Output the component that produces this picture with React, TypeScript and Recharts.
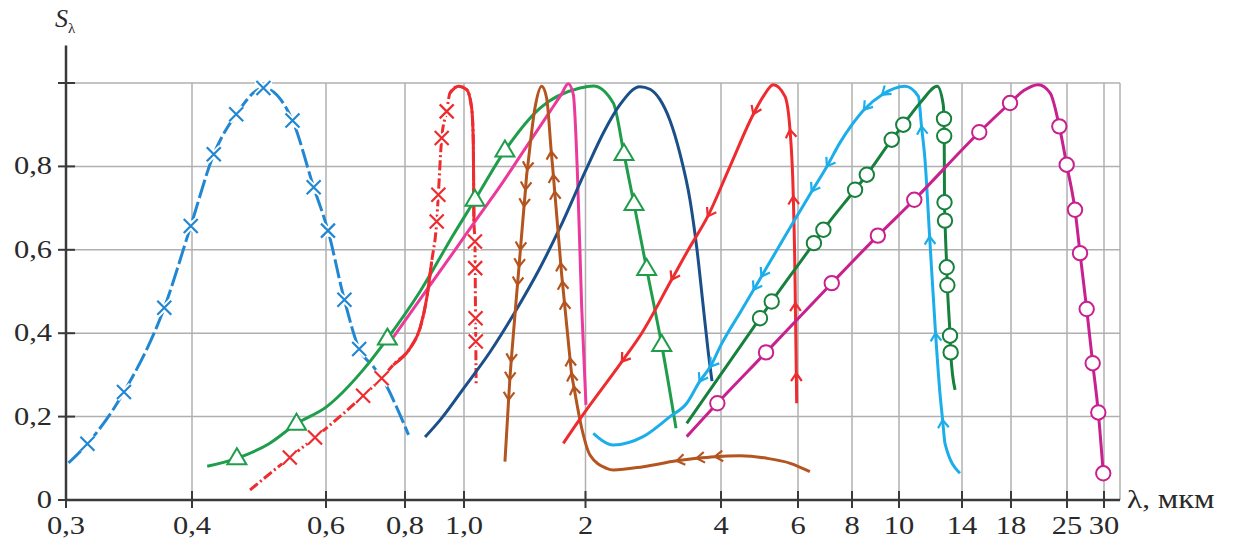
import { LineChart, Line, XAxis, YAxis, CartesianGrid, ReferenceLine } from "recharts";

// x axis of the original is not linear/log: ticks sit at these offsets (px from the 0,3 tick)
const TICK_LAMBDA = [0.3, 0.4, 0.6, 0.8, 1, 2, 4, 6, 8, 10, 14, 18, 25, 30];
const TICK_LABELS = ["0,3", "0,4", "0,6", "0,8", "1,0", "2", "4", "6", "8", "10", "14", "18", "25", "30"];
const TICK_U = [0, 126, 260, 339, 398, 519.5, 655, 732, 786, 833, 896, 945, 1001, 1038];
const Y_TICKS = [0, 0.2, 0.4, 0.6, 0.8, 1];

// [λ µm, Sλ, flag]  flag 1 = measured point marker, 2 = direction arrow
const BLUE_X = [
  [0.302, 0.089], [0.317, 0.135, 1], [0.346, 0.259, 1], [0.378, 0.461, 1], [0.399, 0.657, 1],
  [0.4325, 0.829, 1], [0.466, 0.925, 1], [0.5066, 0.988, 1], [0.55, 0.91, 1], [0.5816, 0.75, 1],
  [0.605, 0.646, 1], [0.6466, 0.48, 1], [0.684, 0.362, 1], [0.72, 0.32], [0.754, 0.272],
  [0.779, 0.222], [0.812, 0.156],
];
const GREEN_TRI = [
  [0.4227, 0.081], [0.467, 0.1, 1], [0.515, 0.135], [0.556, 0.183, 1], [0.602, 0.224],
  [0.694, 0.312], [0.7554, 0.387, 1], [0.851, 0.5], [0.964, 0.636], [1.09, 0.72, 1],
  [1.337, 0.838, 1], [1.626, 0.94], [1.955, 0.988], [2.115, 0.993], [2.41, 0.952],
  [2.568, 0.83, 1], [2.716, 0.71, 1], [2.903, 0.554, 1], [3.125, 0.372, 1], [3.336, 0.172],
];
const RED_NIR = [
  [0.4866, 0.024], [0.546, 0.102, 1], [0.5836, 0.15, 1], [0.635, 0.2], [0.694, 0.25, 1],
  [0.741, 0.292, 1], [0.77, 0.324], [0.817, 0.364], [0.851, 0.412], [0.8736, 0.484],
  [0.8905, 0.572], [0.9075, 0.668, 1], [0.913, 0.732, 1], [0.9244, 0.868, 1], [0.9414, 0.932, 1],
  [0.9525, 0.976], [0.9807, 0.992], [1.022, 0.984], [1.063, 0.94], [1.0765, 0.86],
  [1.082, 0.668], [1.09, 0.62, 1], [1.092, 0.556, 1], [1.095, 0.436, 1], [1.097, 0.38, 1],
  [1.1, 0.276],
];
const RED_SOLID_SPANS = [[0.76, 0.891], [0.95, 1.083]];
const PINK = [
  [0.77, 0.39], [0.851, 0.481], [0.964, 0.594], [1.1, 0.672], [1.296, 0.752], [1.488, 0.836],
  [1.708, 0.932], [1.8, 0.972], [1.858, 0.998], [1.9, 0.972], [1.934, 0.78], [1.969, 0.46],
  [2.007, 0.228],
];
const NAVY = [
  [0.868, 0.151], [0.925, 0.197], [1.0, 0.269], [1.214, 0.355], [1.42, 0.451], [1.626, 0.557],
  [1.79, 0.653], [1.996, 0.787], [2.288, 0.888], [2.509, 0.948], [2.804, 0.991], [2.952, 0.985],
  [3.1, 0.96], [3.247, 0.91], [3.395, 0.83], [3.542, 0.72], [3.646, 0.6], [3.734, 0.47],
  [3.808, 0.36], [3.867, 0.285],
];
const BROWN = [
  [1.337, 0.092], [1.367, 0.24, 2], [1.377, 0.288, 2], [1.388, 0.332, 2], [1.44, 0.516, 2],
  [1.447, 0.54], [1.453, 0.56, 2], [1.464, 0.6, 2], [1.494, 0.704, 2], [1.506, 0.744, 2],
  [1.516, 0.78], [1.521, 0.792, 2], [1.584, 0.94], [1.639, 0.992], [1.68, 0.964],
  [1.718, 0.836, 2], [1.735, 0.78, 2], [1.7465, 0.74, 2], [1.796, 0.568, 2], [1.804, 0.54],
  [1.8095, 0.524, 2], [1.826, 0.476, 2], [1.872, 0.34, 2], [1.885, 0.304, 2], [1.904, 0.272, 2],
  [1.969, 0.172], [2.066, 0.108], [2.31, 0.076], [2.41, 0.072], [2.853, 0.08],
  [3.346, 0.094, 2], [3.64, 0.1, 2], [3.91, 0.104, 2], [4.5, 0.106], [5.19, 0.1], [5.8, 0.088],
  [6.44, 0.068],
];
const RED_MIR = [
  [1.817, 0.136], [1.968, 0.2], [2.537, 0.332, 2], [2.83, 0.4], [3.27, 0.528, 2], [3.517, 0.6],
  [3.804, 0.68, 2], [4.234, 0.8], [4.839, 0.925, 2], [5.1, 0.968], [5.358, 0.996], [5.662, 0.968],
  [5.792, 0.888, 2], [5.878, 0.728, 2], [5.922, 0.536], [5.931, 0.472, 2], [5.956, 0.304, 2],
  [5.966, 0.232],
];
const CYAN = [
  [2.115, 0.16], [2.41, 0.132], [2.85, 0.152], [3.247, 0.2], [3.494, 0.232], [3.683, 0.284, 2],
  [3.843, 0.32, 2], [4.0, 0.372], [4.494, 0.449], [4.847, 0.504, 2], [5.05, 0.536, 2],
  [5.532, 0.612], [6.0, 0.685], [6.507, 0.74, 2], [7.07, 0.8, 2], [7.556, 0.857], [8.0, 0.9],
  [8.51, 0.936, 2], [9.28, 0.972, 2], [10.38, 0.992], [11.23, 0.968], [11.43, 0.896, 2],
  [11.65, 0.816], [11.944, 0.632, 2], [12.32, 0.4, 2], [12.6, 0.256], [12.77, 0.192, 2],
  [12.92, 0.136], [13.87, 0.064],
];
const DKGREEN_O = [
  [3.494, 0.184], [5.013, 0.436, 1], [5.317, 0.476, 1], [6.59, 0.616, 1], [6.94, 0.648, 1],
  [8.13, 0.744, 1], [8.63, 0.78, 1], [9.69, 0.864, 1], [10.27, 0.9, 1], [11.4, 0.955],
  [12.43, 0.992], [12.8, 0.95], [12.857, 0.914, 1], [12.87, 0.873, 1], [12.89, 0.714, 1],
  [12.92, 0.67, 1], [13.03, 0.558, 1], [13.07, 0.515, 1], [13.24, 0.394, 1], [13.28, 0.354, 1],
  [13.56, 0.264],
];
const MAGENTA_O = [
  [3.494, 0.152], [3.946, 0.232, 1], [5.17, 0.354, 1], [7.25, 0.52, 1], [9.1, 0.634, 1],
  [10.97, 0.72, 1], [15.41, 0.882, 1], [17.92, 0.952, 1], [19.6, 0.982], [21.41, 0.996],
  [22.9, 0.976], [24.04, 0.896, 1], [24.96, 0.804, 1], [26.08, 0.696, 1], [26.76, 0.592, 1],
  [27.66, 0.458, 1], [28.47, 0.328, 1], [29.23, 0.21, 1], [29.9, 0.064, 1],
];

const W = 1235, H = 544;
const SERIF = "'Liberation Serif', 'Times New Roman', serif";
const GRID = "#b0b0b0";
const AXIS = "#3a3a3a";

function toU(l: number) {
  let i = 0;
  while (i < TICK_LAMBDA.length - 2 && l > TICK_LAMBDA[i + 1]) i++;
  const t = (l - TICK_LAMBDA[i]) / (TICK_LAMBDA[i + 1] - TICK_LAMBDA[i]);
  return TICK_U[i] + t * (TICK_U[i + 1] - TICK_U[i]);
}

const toRows = (pts: number[][]) => pts.map(([l, s, f]) => ({ u: toU(l), y: s, f: f ?? 0 }));

function solidRows(pts: number[][], spans: number[][]) {
  const rows: any[] = [];
  spans.forEach(([a, b], k) => {
    pts.filter(p => p[0] >= a && p[0] <= b).forEach(([l, s]) => rows.push({ u: toU(l), y: s }));
    if (k < spans.length - 1) rows.push({ u: toU((b + spans[k + 1][0]) / 2), y: null });
  });
  return rows;
}

// marker renderers; arrow orientation only uses the plot's aspect (1 u = 1px, 1 S = 417px)
function marker(kind: string, color: string, rows: any[]) {
  return (props: any) => {
    const { cx, cy, index } = props;
    const row = rows[index];
    if (!row || !row.f || cx == null || cy == null) return <g key={`n${index}`} />;
    if (row.f === 2) {
      const prev = rows[index - 1] ?? row;
      const dx = prev.u - row.u, dy = -(prev.y - row.y) * 417;
      const ang = Math.atan2(dy, dx);
      const L = 9.5, a1 = ang + Math.PI - 0.6, a2 = ang + Math.PI + 0.6;
      return (
        <path key={`a${index}`} fill="none" stroke={color} strokeWidth={2.2}
          d={`M${cx + L * Math.cos(a1)},${cy + L * Math.sin(a1)}L${cx},${cy}L${cx + L * Math.cos(a2)},${cy + L * Math.sin(a2)}`} />
      );
    }
    if (kind === "x") {
      const d = `M${cx - 7},${cy - 7}L${cx + 7},${cy + 7}M${cx - 7},${cy + 7}L${cx + 7},${cy - 7}`;
      return (
        <g key={`x${index}`}>
          <path d={d} stroke="#fff" strokeWidth={6} />
          <path d={d} stroke={color} strokeWidth={2.2} />
        </g>
      );
    }
    if (kind === "tri") {
      return (
        <path key={`t${index}`} d={`M${cx},${cy - 10}L${cx + 9.5},${cy + 6}L${cx - 9.5},${cy + 6}Z`}
          fill="#fff" stroke={color} strokeWidth={2} />
      );
    }
    return <circle key={`o${index}`} cx={cx} cy={cy} r={7.2} fill="#fff" stroke={color} strokeWidth={2} />;
  };
}

const YTick = (props: any) => {
  const { x, y, payload } = props;
  const v = payload.value;
  const label = v === 1 ? "" : v === 0 ? "0" : v.toFixed(1).replace(".", ",");
  return (
    <g>
      <line x1={x} x2={x + 17} y1={y} y2={y} stroke={AXIS} strokeWidth={2} />
      <text transform={`translate(${x - 6},${y + 8}) scale(1.22,1)`} textAnchor="end"
        fontFamily={SERIF} fontSize={25} fill="#2a2a2a">{label}</text>
    </g>
  );
};

const XTick = (props: any) => {
  const { x, y, payload } = props;
  const i = TICK_U.indexOf(payload.value);
  return (
    <g>
      <line x1={x} x2={x} y1={y - 17} y2={y} stroke={AXIS} strokeWidth={2} />
      <text transform={`translate(${x},${y + 26}) scale(1.22,1)`} textAnchor="middle"
        fontFamily={SERIF} fontSize={25} fill="#2a2a2a">{TICK_LABELS[i] ?? ""}</text>
    </g>
  );
};

const SERIES = [
  { key: "blue", pts: BLUE_X, color: "#2287d2", kind: "x", dash: "19 4" },
  { key: "green", pts: GREEN_TRI, color: "#1f9d4b", kind: "tri" },
  { key: "rednir", pts: RED_NIR, color: "#ee2b2e", kind: "x", dash: "10 3 2 3" },
  { key: "pink", pts: PINK, color: "#ec3a9c", kind: "" },
  { key: "navy", pts: NAVY, color: "#1b4f8a", kind: "" },
  { key: "brown", pts: BROWN, color: "#b4541f", kind: "" },
  { key: "redmir", pts: RED_MIR, color: "#ee2b2e", kind: "" },
  { key: "cyan", pts: CYAN, color: "#1caeea", kind: "" },
  { key: "dkgreen", pts: DKGREEN_O, color: "#17803d", kind: "o" },
  { key: "magenta", pts: MAGENTA_O, color: "#c8218f", kind: "o" },
];

export default function App() {
  const redSolid = solidRows(RED_NIR, RED_SOLID_SPANS);
  return (
    <div style={{ position: "absolute", left: 0, top: 0, width: W, height: H, background: "#fff" }}>
      <LineChart width={W} height={H} margin={{ top: 83, right: 115, bottom: 0, left: 0 }}>
        <CartesianGrid stroke={GRID} strokeWidth={1.5} />
        <XAxis type="number" dataKey="u" domain={[0, 1054]} ticks={TICK_U} interval={0}
          height={44} tickSize={8} tickMargin={0} tickLine={false} tick={<XTick />}
          axisLine={{ stroke: AXIS, strokeWidth: 2.5 }} allowDuplicatedCategory={false} />
        <YAxis type="number" domain={[0, 1]} ticks={Y_TICKS} width={66} tickSize={8} tickMargin={0}
          tickLine={false} tick={<YTick />} axisLine={{ stroke: AXIS, strokeWidth: 2.5 }} />
        <ReferenceLine segment={[{ x: 0, y: 1 }, { x: 0, y: 1.09 }]} ifOverflow="visible"
          stroke={AXIS} strokeWidth={2.5} />
        {SERIES.map(s => {
          const rows = toRows(s.pts);
          return (
            <Line key={s.key} data={rows} dataKey="y" type="monotone" stroke={s.color} strokeWidth={3}
              strokeDasharray={s.dash} dot={marker(s.kind, s.color, rows)} activeDot={false}
              isAnimationActive={false} legendType="none" />
          );
        })}
        <Line data={redSolid} dataKey="y" type="monotone" stroke="#ee2b2e" strokeWidth={3} dot={false}
          activeDot={false} isAnimationActive={false} legendType="none" />
      </LineChart>
      <div style={{ position: "absolute", left: 55, top: 4, fontFamily: SERIF, fontSize: 26, fontStyle: "italic", color: "#2a2a2a" }}>
        S<span style={{ fontSize: 15, fontStyle: "normal", position: "relative", top: 6 }}>λ</span>
      </div>
      <div style={{ position: "absolute", left: 1127, top: 484, fontFamily: SERIF, fontSize: 26, color: "#2a2a2a", whiteSpace: "nowrap", transform: "scaleX(1.2)", transformOrigin: "left" }}>
        λ, <span style={{ fontSize: 27 }}>мкм</span>
      </div>
    </div>
  );
}
